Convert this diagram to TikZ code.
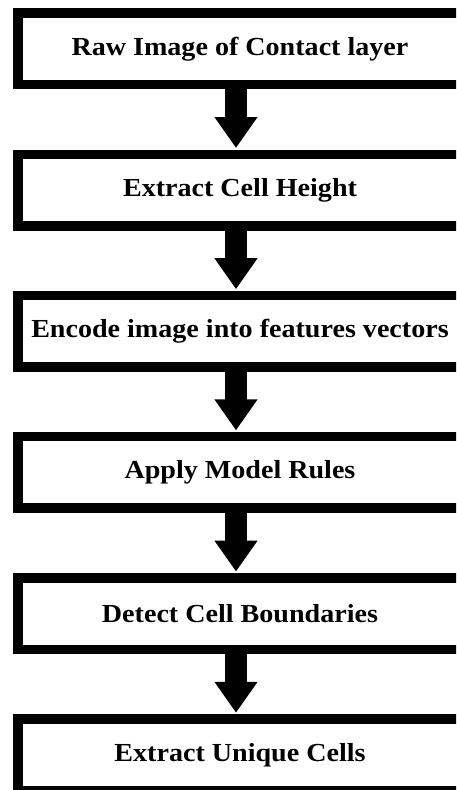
\documentclass[tikz,border=0pt]{standalone}
\usepackage{fontspec}
\setmainfont{Liberation Serif}
\newfontfamily\boxfont[FakeStretch=1.08]{Liberation Serif}
\usetikzlibrary{arrows.meta}
\begin{document}
\begin{tikzpicture}[x=1pt,y=-1pt,
  stepbox/.style={draw=black, fill=white, line width=9.5pt, minimum width=444.5pt,
    minimum height=71.5pt, inner sep=0pt,
    font=\boxfont\fontsize{26}{30}\selectfont\bfseries},
  flow/.style={line width=22pt, -{Triangle[width=41pt,length=31pt]}, shorten >=1.5pt}]
\useasboundingbox (0,0) rectangle (456,790);
\fill[white] (0,0) rectangle (456,790);
\clip (0,0) rectangle (456,790);
% process steps, top to bottom
\node[stepbox] (s1) at (240,48.8)  {Raw Image of Contact layer};
\node[stepbox] (s2) at (240,190.0) {Extract Cell Height};
\node[stepbox] (s3) at (240,331.2) {Encode image into features vectors};
\node[stepbox] (s4) at (240,472.4) {Apply Model Rules};
\node[stepbox] (s5) at (240,613.6) {Detect Cell Boundaries};
\node[stepbox] (s6) at (240,754.8) {Extract Unique Cells};
% block arrows between consecutive steps
\foreach \a/\b in {s1/s2,s2/s3,s3/s4,s4/s5,s5/s6}
  \draw[flow] ([xshift=-4pt]\a.south) -- ([xshift=-4pt]\b.north);
\end{tikzpicture}
\end{document}
